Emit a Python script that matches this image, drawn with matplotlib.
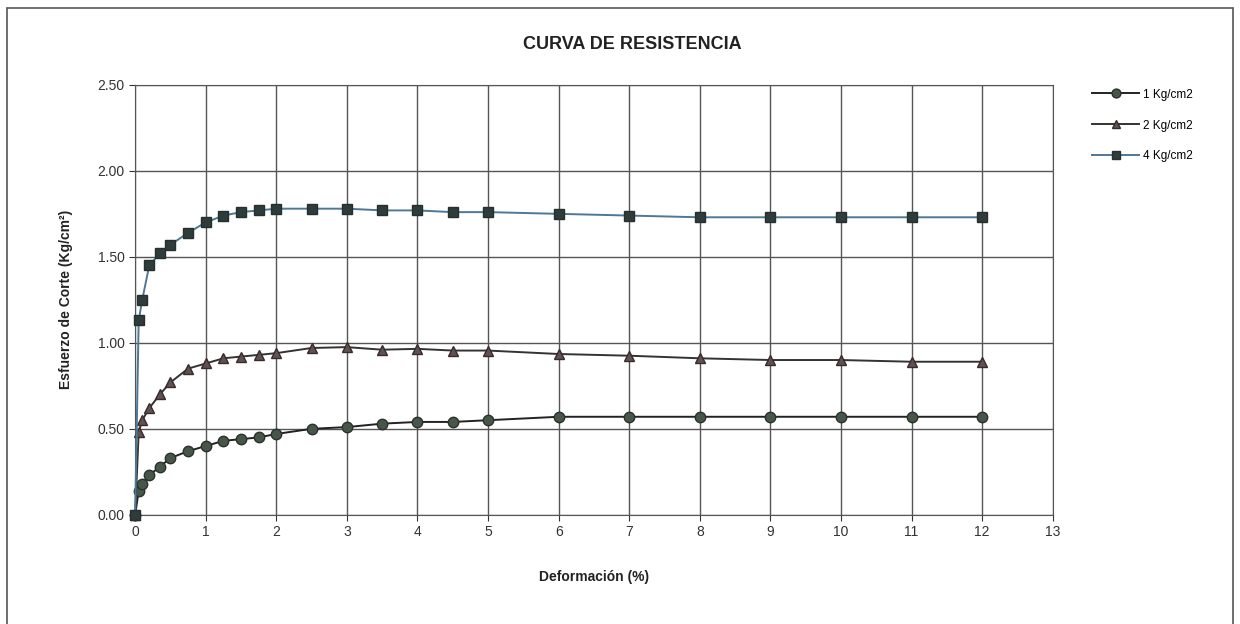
import matplotlib
matplotlib.use("Agg")
import matplotlib.pyplot as plt
from matplotlib.patches import Rectangle

plt.rcParams['font.family'] = ['Liberation Sans', 'DejaVu Sans']

# deformacion (%)
deform = [0, 0.05, 0.1, 0.2, 0.35, 0.5, 0.75, 1.0, 1.25, 1.5, 1.75, 2.0,
          2.5, 3.0, 3.5, 4.0, 4.5, 5.0, 6, 7, 8, 9, 10, 11, 12]

# esfuerzo de corte (Kg/cm2)
tau_1 = [0, 0.14, 0.18, 0.23, 0.28, 0.33, 0.37, 0.40, 0.43, 0.44, 0.45, 0.47,
         0.50, 0.51, 0.53, 0.54, 0.54, 0.55, 0.57, 0.57, 0.57, 0.57, 0.57, 0.57, 0.57]
tau_2 = [0, 0.48, 0.55, 0.62, 0.70, 0.77, 0.85, 0.88, 0.91, 0.92, 0.93, 0.94,
         0.97, 0.975, 0.96, 0.965, 0.955, 0.955, 0.935, 0.925, 0.91, 0.90, 0.90, 0.89, 0.89]
tau_4 = [0, 1.13, 1.25, 1.45, 1.52, 1.57, 1.64, 1.70, 1.74, 1.76, 1.77, 1.78,
         1.78, 1.78, 1.77, 1.77, 1.76, 1.76, 1.75, 1.74, 1.73, 1.73, 1.73, 1.73, 1.73]

labels = ['1 Kg/cm2', '2 Kg/cm2', '4 Kg/cm2']

fig = plt.figure(figsize=(12.4, 6.24), dpi=100)
ax = fig.add_axes([0.109, 0.175, 0.740, 0.689])

# marco exterior del grafico
fig.patches.append(Rectangle((0.006, -0.01), 0.988, 0.997, transform=fig.transFigure,
                             fill=False, edgecolor='#555555', linewidth=1.2))

ax.plot(deform, tau_1, color='#222222', lw=1.4, marker='o', ms=7.5,
        mfc='#46574a', mec='#2a322c', label=labels[0], zorder=3, clip_on=False)
ax.plot(deform, tau_2, color='#333333', lw=1.4, marker='^', ms=7.5,
        mfc='#5f5252', mec='#3a2a2a', label=labels[1], zorder=3, clip_on=False)
ax.plot(deform, tau_4, color='#4d7896', lw=1.4, marker='s', ms=7.5,
        mfc='#2f3c3c', mec='#263030', label=labels[2], zorder=4, clip_on=False)

ax.set_xlim(0, 13)
ax.set_ylim(0, 2.5)
ax.set_xticks(range(0, 14))
ax.set_yticks([0, 0.5, 1.0, 1.5, 2.0, 2.5])
ax.set_yticklabels(['0.00', '0.50', '1.00', '1.50', '2.00', '2.50'])
ax.grid(True, color='#555555', linewidth=1.0)
ax.tick_params(labelsize=10, colors='#333333', length=4, direction='out')
for s in ax.spines.values():
    s.set_color('#555555')

ax.set_xlabel('Deformación (%)', fontsize=10, fontweight='bold', color='#222222', labelpad=22)
ax.set_ylabel('Esfuerzo de Corte (Kg/cm²)', fontsize=10, fontweight='bold', color='#222222', labelpad=18)
fig.text(0.51, 0.928, 'CURVA DE RESISTENCIA', ha='center', va='center',
         fontsize=13, fontweight='bold', color='#222222')

fig.legend(loc='upper left', bbox_to_anchor=(0.872, 0.875), frameon=False,
           fontsize=8.5, handlelength=4.0, markerscale=0.85, labelspacing=1.6,
           handletextpad=0.3)

fig.savefig('out.png', dpi=100)
